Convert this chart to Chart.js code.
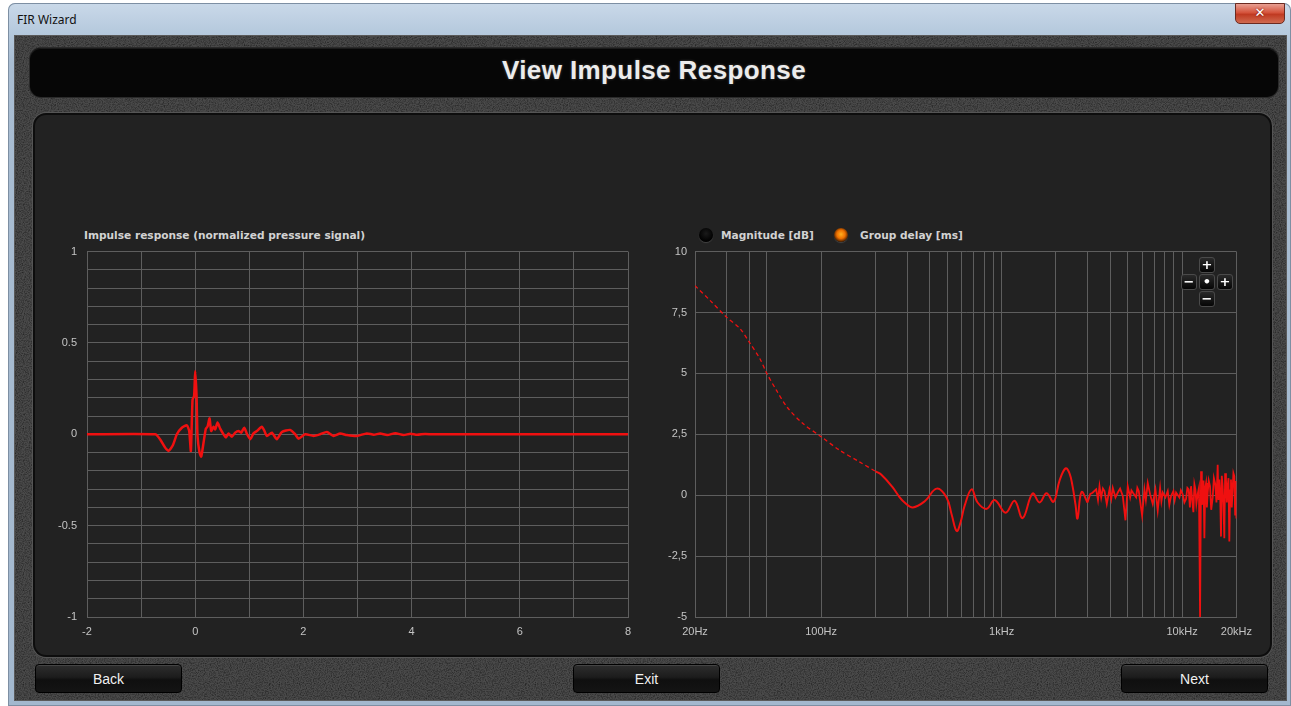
<!DOCTYPE html>
<html>
<head>
<meta charset="utf-8">
<script src="https://cdn.jsdelivr.net/npm/chart.js@4.4.1/dist/chart.umd.min.js"></script>
<style>
  html, body { margin: 0; padding: 0; }
  body { width: 1291px; height: 706px; overflow: hidden; background: #ffffff; position: relative; font-family: "Liberation Sans", Arial, sans-serif; }
  .abs { position: absolute; }
  #frame { left: 8px; top: 3px; width: 1283px; height: 703px; border-radius: 7px 7px 0 0;
    background: linear-gradient(to bottom, #cad9e9 0px, #b5c9dd 30px, #a9bdd2 60px, #a3b8ce 100%);
    box-shadow: inset 0 0 0 1px #7d8fa3; }
  #titleText { left: 17px; top: 11px; font-size: 12px; color: #111; font-family: "Noto Sans", "Liberation Sans", sans-serif; }
  #closeBtn { left: 1235px; top: 3px; width: 50px; height: 21px; border-radius: 0 0 5px 5px;
    background: linear-gradient(to bottom, #e8a093 0%, #d5543d 45%, #c03a22 55%, #d06a4f 100%);
    border: 1px solid #6b2a20; box-sizing: border-box; color: #fff; font: bold 13px "DejaVu Sans", sans-serif;
    text-align: center; line-height: 18px; text-shadow: 0 0 2px #600; }
  #client { left: 14px; top: 35px; width: 1273px; height: 666px; background-color: #4a4a4a;
    background-image: url("data:image/svg+xml;utf8,<svg xmlns='http://www.w3.org/2000/svg' width='256' height='256'><filter id='n'><feTurbulence type='fractalNoise' baseFrequency='0.85' numOctaves='2' stitchTiles='stitch'/><feColorMatrix values='0 0 0 0 0  0 0 0 0 0  0 0 0 0 0  -1.0 0 0 0 0.62'/></filter><rect width='100%' height='100%' filter='url(%23n)'/></svg>");
    box-shadow: inset 0 0 0 1px #5a5a5a; }
  #header { left: 30px; top: 48px; width: 1248px; height: 49px; background: #060606; border-radius: 11px;
    box-shadow: 0 0 0 1px #2a2a2a, inset 0 1px 0 #1a1a1a; color: #ececec; text-align: center;
    font: bold 26px "Liberation Sans", Arial, sans-serif; letter-spacing: 0.4px; line-height: 45px; text-shadow: 0 0 3px rgba(255,255,255,0.25); }
  #panel { left: 35px; top: 115px; width: 1235px; height: 540px; background: #222222; border-radius: 11px;
    box-shadow: 0 0 0 2px #0d0d0d, 0 0 0 3px #555555; }
  .btn { width: 147px; height: 29px; top: 664px; border-radius: 4px; box-sizing: border-box; border: 1px solid #000;
    background: linear-gradient(to bottom, #2e2e2e 0%, #1c1c1c 45%, #0f0f0f 55%, #141414 100%);
    box-shadow: inset 0 1px 0 #444; color: #f0f0f0; font: 14px "Liberation Sans", Arial, sans-serif; text-align: center; line-height: 29px; }
  .chartTitle { color: #d2d2d2; font: bold 10.6px "DejaVu Sans", sans-serif; white-space: nowrap; }
  .dot { width: 14px; height: 14px; border-radius: 50%; }
  .zb { width: 16px; height: 16px; box-sizing: border-box; border: 1px solid #4a4a4a; border-radius: 3px;
    background: linear-gradient(to bottom, #2a2a2a, #050505); color: #fff; font: bold 13px "DejaVu Sans", sans-serif;
    text-align: center; line-height: 14px; }
  canvas { position: absolute; }
</style>
</head>
<body>
<div id="frame" class="abs"></div>
<div id="titleText" class="abs">FIR Wizard</div>
<div id="closeBtn" class="abs">✕</div>
<div id="client" class="abs"></div>
<div id="header" class="abs">View Impulse Response</div>
<div id="panel" class="abs"></div>

<div class="abs chartTitle" style="left:84px; top:229px;">Impulse response (normalized pressure signal)</div>

<div class="abs dot" style="left:699px; top:228px; background: radial-gradient(circle at 50% 40%, #1a1a1a 0%, #000 70%); box-shadow: 0 1px 1px #444;"></div>
<div class="abs chartTitle" style="left:721px; top:229px;">Magnitude [dB]</div>
<div class="abs dot" style="left:834px; top:228px; background: radial-gradient(circle at 50% 45%, #ffb020 0%, #f07000 40%, #3a1800 75%, #000 100%); box-shadow: 0 1px 1px #444;"></div>
<div class="abs chartTitle" style="left:860px; top:229px;">Group delay [ms]</div>

<canvas id="impulseChart" width="600" height="410" style="left:40px; top:235px;"></canvas>
<canvas id="delayChart" width="620" height="410" style="left:640px; top:237px;"></canvas>

<div class="abs zb" style="left:1199px; top:257px;">+</div>
<div class="abs zb" style="left:1181px; top:274px;">−</div>
<div class="abs zb" style="left:1199px; top:274px;">•</div>
<div class="abs zb" style="left:1217px; top:274px;">+</div>
<div class="abs zb" style="left:1199px; top:291px;">−</div>

<div class="abs btn" style="left:35px;">Back</div>
<div class="abs btn" style="left:573px;">Exit</div>
<div class="abs btn" style="left:1121px;">Next</div>

<script>
// Impulse response: time in ms, normalized pressure
const impulseTime = [-2, -0.74, -0.65, -0.555, -0.493, -0.413, -0.339, -0.247, -0.154, -0.111, -0.08, -0.049, -0.02, 0, 0.025, 0.043, 0.08, 0.111, 0.154, 0.197, 0.228, 0.265, 0.296, 0.339, 0.37, 0.413, 0.462, 0.524, 0.567, 0.616, 0.678, 0.739, 0.801, 0.85, 0.906, 0.96, 1.017, 1.078, 1.14, 1.232, 1.28, 1.325, 1.417, 1.509, 1.602, 1.756, 1.85, 1.91, 2.033, 2.187, 2.31, 2.434, 2.557, 2.68, 2.804, 2.988, 3.173, 3.3, 3.42, 3.55, 3.7, 3.85, 3.98, 4.1, 4.25, 4.4, 8];
const impulseValue = [0, 0, -0.027, -0.073, -0.091, -0.06, 0, 0.036, 0.049, 0.018, -0.091, 0.19, 0.21, 0.346, 0.21, -0.01, -0.1, -0.122, -0.046, 0.031, 0.042, 0.087, 0.018, 0.042, 0.027, 0.064, 0.031, 0, -0.018, 0.004, -0.013, 0.009, 0.018, 0.009, 0.036, 0, -0.027, 0.005, 0.018, 0.042, 0.018, -0.009, 0.009, -0.027, 0.013, 0.024, 0, -0.024, 0, -0.009, 0, 0.013, -0.009, 0.004, -0.004, -0.009, 0.005, -0.002, 0.004, -0.004, 0.006, -0.004, 0.003, -0.003, 0.002, 0, 0];

// Group delay in ms over frequency in Hz: low band (dashed), smooth mid band, dense high band
const delayLowFreq = [20, 24.2, 30, 35.5, 40, 45.8, 50, 56.6, 65, 79, 100, 127, 163, 200];
const delayLowValue = [8.6, 8.0, 7.3, 6.84, 6.28, 5.6, 5.0, 4.3, 3.6, 2.95, 2.4, 1.84, 1.37, 0.98];

const delayMidFreq = [200, 215, 248, 270, 290, 322, 375, 437, 496, 529, 564, 593, 624, 682, 736, 826, 915, 1052, 1180, 1307, 1484, 1623, 1774, 1940, 2094, 2260, 2378, 2472, 2568, 2634, 2772, 2992];
const delayMidValue = [0.98, 0.85, 0.34, -0.05, -0.3, -0.5, -0.25, 0.27, -0.1, -0.8, -1.47, -1.1, -0.43, 0.24, -0.3, -0.56, -0.2, -0.72, -0.23, -0.94, 0.07, -0.3, 0.08, -0.27, 0.6, 1.1, 0.9, 0.37, -0.4, -0.96, 0.13, -0.3];

const delayHighFreq = [2992, 3100, 3190, 3342, 3420, 3487, 3562, 3640, 3716, 3826, 3961, 4050, 4130, 4274, 4403, 4535, 4692, 4856, 5000, 5154, 5240, 5332, 5563, 5650, 5754, 6004, 6185, 6300, 6452, 6648, 6878, 7116, 7328, 7554, 7680, 7814, 8085, 8328, 8500, 8690, 8952, 9100, 9260, 9662, 9850, 10080, 10300, 10520, 10700, 10880, 11050, 11210, 11380, 11550, 11700, 11850, 12000, 12200, 12400, 12580, 12740, 12870, 13010, 13150, 13290, 13430, 13580, 13720, 13870, 14050, 14280, 14500, 14780, 15000, 15280, 15500, 15750, 15900, 16090, 16250, 16430, 16600, 16780, 16950, 17140, 17320, 17510, 17700, 17890, 18080, 18270, 18460, 18660, 18850, 19060, 19250, 19470, 19680, 19890, 20000];
const delayHighValue = [-0.3, 0.05, 0.1, 0.24, -0.2, 0.37, -0.1, 0.28, 0.17, -0.36, 0.24, -0.15, 0.3, -0.09, 0.11, 0.27, -0.03, -1.03, 0.37, -0.09, 0.2, 0.11, -0.09, 0.3, 0.17, -0.83, 0.24, -0.2, 0.5, 0.04, -0.36, 0.24, -0.63, 0.3, -0.25, 0.11, -0.09, 0.17, -0.4, -0.03, 0.17, -0.2, 0.11, -0.09, 0.2, 0.04, -0.3, -0.16, 0.3, 0.24, -0.5, 0.37, -0.2, -0.7, 0.45, 0.24, -0.35, 0.04, 0.3, -5, 0.98, -0.4, -0.16, 0.6, -1.77, 0.3, 0.5, -0.5, 0.11, 0.6, 0.37, -0.6, -0.09, 0.7, 0.44, -0.3, 1.25, -0.2, 0.64, 0.1, -1.7, 0.8, 0.37, -0.4, -1.77, 0.9, 0.64, -0.3, 0.37, 0.7, -1.9, 0.2, 0.64, -0.5, 0.24, 0.9, 0.78, -0.8, 0.58, -0.96];

// Axis ticks and labels
const impulseXLabelValues = [-2, 0, 2, 4, 6, 8];
const impulseYLabelValues = [-1, -0.5, 0, 0.5, 1];
const freqGridValues = [20, 30, 40, 50, 100, 200, 300, 400, 500, 600, 700, 800, 900, 1000, 2000, 3000, 4000, 5000, 6000, 7000, 8000, 9000, 10000, 20000];
const freqLabelValues = [20, 100, 1000, 10000, 20000];
const freqLabelText = ['20Hz', '100Hz', '1kHz', '10kHz', '20kHz'];
const delayYLabelText = ['-5', '-2,5', '0', '2,5', '5', '7,5', '10'];

const GRID = '#5e5e5e';
const TICK_FONT = { family: '"Liberation Sans", Arial, sans-serif', size: 11 };
const TICK_COLOR = '#c4c4c4';
const CURVE = '#f01010';

function zip(xs, ys) { return xs.map((x, i) => ({ x: x, y: ys[i] })); }
function near(a, b) { return Math.abs(a - b) < 1e-6; }

new Chart(document.getElementById('impulseChart'), {
  type: 'line',
  data: { datasets: [{
    data: zip(impulseTime, impulseValue),
    borderColor: CURVE, borderWidth: 2.5, pointRadius: 0, tension: 0.2, fill: false
  }]},
  options: {
    responsive: false, animation: false, devicePixelRatio: 1,
    layout: { padding: { top: 6, right: 12, left: 0, bottom: 0 } },
    plugins: { legend: { display: false }, tooltip: { enabled: false } },
    scales: {
      x: {
        type: 'linear', min: -2, max: 8,
        ticks: { stepSize: 1, color: TICK_COLOR, font: TICK_FONT, padding: 8, maxRotation: 0, autoSkip: false,
          callback: v => impulseXLabelValues.some(l => near(l, v)) ? String(Math.round(v)) : '' },
        grid: { color: GRID, drawTicks: false, lineWidth: 1 },
        border: { display: true, color: GRID },
        afterFit: s => { s.height = 28; }
      },
      y: {
        type: 'linear', min: -1, max: 1,
        ticks: { stepSize: 0.1, color: TICK_COLOR, font: TICK_FONT, padding: 10, autoSkip: false,
          callback: v => { const m = impulseYLabelValues.find(l => near(l, v)); return m === undefined ? '' : String(m); } },
        grid: { color: GRID, drawTicks: false, lineWidth: 1 },
        border: { display: true, color: GRID },
        afterFit: s => { s.width = 47; }
      }
    }
  }
});

new Chart(document.getElementById('delayChart'), {
  type: 'line',
  data: { datasets: [
    { data: zip(delayLowFreq, delayLowValue), borderColor: CURVE, borderWidth: 1.3, borderDash: [4, 3],
      pointRadius: 0, tension: 0.3, fill: false },
    { data: zip(delayMidFreq, delayMidValue), borderColor: CURVE, borderWidth: 2, pointRadius: 0, tension: 0.4, fill: false },
    { data: zip(delayHighFreq, delayHighValue), borderColor: CURVE, borderWidth: 1.8, pointRadius: 0, tension: 0, fill: false }
  ]},
  options: {
    responsive: false, animation: false, devicePixelRatio: 1,
    layout: { padding: { top: 8, right: 23, left: 0, bottom: 0 } },
    plugins: { legend: { display: false }, tooltip: { enabled: false } },
    scales: {
      x: {
        type: 'logarithmic', min: 20, max: 20000,
        afterBuildTicks: s => { s.ticks = freqGridValues.map(v => ({ value: v })); },
        ticks: { color: TICK_COLOR, font: TICK_FONT, padding: 8, maxRotation: 0, autoSkip: false,
          callback: v => { const i = freqLabelValues.indexOf(v); return i < 0 ? '' : freqLabelText[i]; } },
        grid: { color: GRID, drawTicks: false, lineWidth: 1 },
        border: { display: true, color: GRID },
        afterFit: s => { s.height = 30; }
      },
      y: {
        type: 'linear', min: -5, max: 10,
        ticks: { stepSize: 2.5, color: TICK_COLOR, font: TICK_FONT, padding: 8, autoSkip: false,
          callback: (v, i) => delayYLabelText[i] },
        grid: { color: GRID, drawTicks: false, lineWidth: 1 },
        border: { display: true, color: GRID },
        afterFit: s => { s.width = 55; }
      }
    }
  }
});
</script>
</body>
</html>
